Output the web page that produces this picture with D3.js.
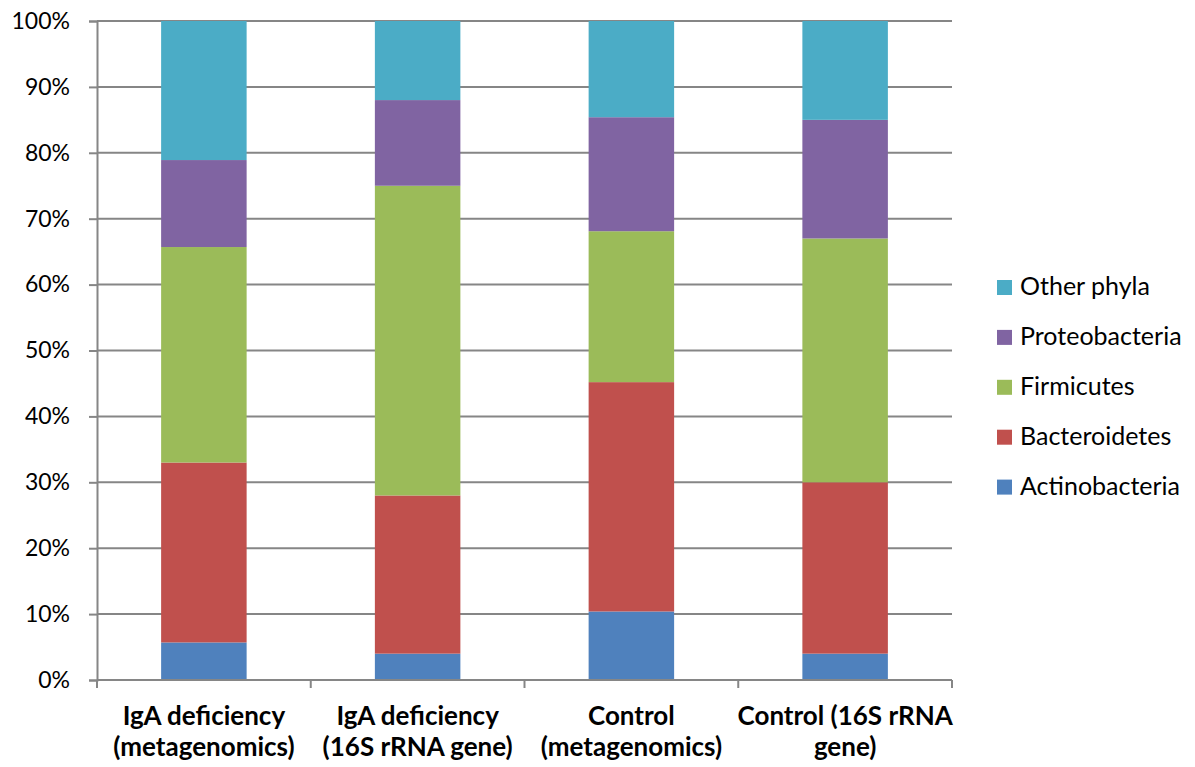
<!DOCTYPE html>
<html>
<head>
<meta charset="utf-8">
<script src="https://cdn.jsdelivr.net/npm/d3@7"></script>
<style>
  html, body { margin: 0; padding: 0; background: #fff; }
  svg { display: block; }
  text { font-family: Lato, "Open Sans", sans-serif; fill: #000; }
</style>
</head>
<body>
<svg id="chart" width="1195" height="767"></svg>
<script>
// Sample groups (two-line axis labels)
const categories = [
  ["IgA deficiency", "(metagenomics)"],
  ["IgA deficiency", "(16S rRNA gene)"],
  ["Control", "(metagenomics)"],
  ["Control (16S rRNA", "gene)"]
];

// Phylum shares (%) per group, stacked bottom to top
const actinobacteria = [5.7, 4.0, 10.4, 4.0];
const bacteroidetes  = [27.3, 24.0, 34.8, 26.0];
const firmicutes     = [32.7, 47.0, 22.9, 37.0];
const proteobacteria = [13.2, 13.0, 17.3, 18.0];
const otherPhyla     = [21.1, 12.0, 14.6, 15.0];

const seriesNames = ["Actinobacteria", "Bacteroidetes", "Firmicutes", "Proteobacteria", "Other phyla"];
const seriesColors = ["#4F81BD", "#C0504D", "#9BBB59", "#8064A2", "#4BACC6"];
const yTicks = [0, 10, 20, 30, 40, 50, 60, 70, 80, 90, 100];

const seriesValues = [actinobacteria, bacteroidetes, firmicutes, proteobacteria, otherPhyla];
const rows = categories.map((c, i) => {
  const r = { key: i };
  seriesNames.forEach((s, j) => { r[s] = seriesValues[j][i]; });
  return r;
});

const svg = d3.select("#chart");
const plot = { left: 97, right: 952, top: 21, bottom: 680 };
const axisColor = "#868686";

const x = d3.scaleBand()
  .domain(categories.map((c, i) => i))
  .range([plot.left, plot.right])
  .paddingInner(0.6)
  .paddingOuter(0.3);

const y = d3.scaleLinear().domain([0, 100]).range([plot.bottom, plot.top]);

// Horizontal gridlines
svg.append("g")
  .selectAll("line")
  .data(yTicks.filter(t => t > 0))
  .join("line")
  .attr("x1", plot.left).attr("x2", plot.right)
  .attr("y1", d => y(d)).attr("y2", d => y(d))
  .attr("stroke", axisColor).attr("stroke-width", 2);

// Stacked bars
const stack = d3.stack().keys(seriesNames);
const layers = stack(rows);
svg.append("g")
  .selectAll("g")
  .data(layers)
  .join("g")
  .attr("fill", (d, i) => seriesColors[i])
  .selectAll("rect")
  .data(d => d)
  .join("rect")
  .attr("x", d => x(d.data.key))
  .attr("width", x.bandwidth())
  .attr("y", d => y(d[1]))
  .attr("height", d => y(d[0]) - y(d[1]));

// Y axis
const yAxis = svg.append("g")
  .attr("transform", `translate(${plot.left},0)`)
  .call(d3.axisLeft(y).tickValues(yTicks).tickFormat(d => d + "%").tickSizeOuter(0).tickSize(8).tickPadding(19));
yAxis.select(".domain").attr("stroke", axisColor).attr("stroke-width", 2);
yAxis.selectAll(".tick line").attr("stroke", axisColor).attr("stroke-width", 2);
yAxis.selectAll(".tick text")
  .attr("font-size", 23).attr("font-family", "Lato, sans-serif").attr("fill", "#000");

// X axis line with dividers between groups
const xAxisG = svg.append("g");
xAxisG.append("line")
  .attr("x1", plot.left).attr("x2", plot.right)
  .attr("y1", plot.bottom).attr("y2", plot.bottom)
  .attr("stroke", axisColor).attr("stroke-width", 2);
const dividers = d3.range(categories.length + 1).map(i => plot.left + (plot.right - plot.left) * i / categories.length);
xAxisG.selectAll("line.div")
  .data(dividers)
  .join("line")
  .attr("class", "div")
  .attr("x1", d => d).attr("x2", d => d)
  .attr("y1", plot.bottom).attr("y2", plot.bottom + 8)
  .attr("stroke", axisColor).attr("stroke-width", 2);

// Category labels
const labels = svg.append("g")
  .selectAll("text")
  .data(categories)
  .join("text")
  .attr("text-anchor", "middle")
  .attr("font-size", 26)
  .attr("font-weight", "bold");
labels.each(function(d, i) {
  const cx = x(i) + x.bandwidth() / 2;
  d3.select(this).selectAll("tspan")
    .data(d)
    .join("tspan")
    .attr("x", cx)
    .attr("y", (t, k) => 725 + k * 31)
    .text(t => t);
});

// Legend (top entry is the top of the stack)
const legendItems = seriesNames.map((n, i) => ({ name: n, color: seriesColors[i] })).reverse();
const legend = svg.append("g")
  .selectAll("g")
  .data(legendItems)
  .join("g")
  .attr("transform", (d, i) => `translate(997, ${287 + i * 49.9})`);
legend.append("rect")
  .attr("x", 0).attr("y", -7).attr("width", 15).attr("height", 15)
  .attr("fill", d => d.color);
legend.append("text")
  .attr("x", 23).attr("y", 8)
  .attr("font-size", 25)
  .text(d => d.name);
</script>
</body>
</html>
